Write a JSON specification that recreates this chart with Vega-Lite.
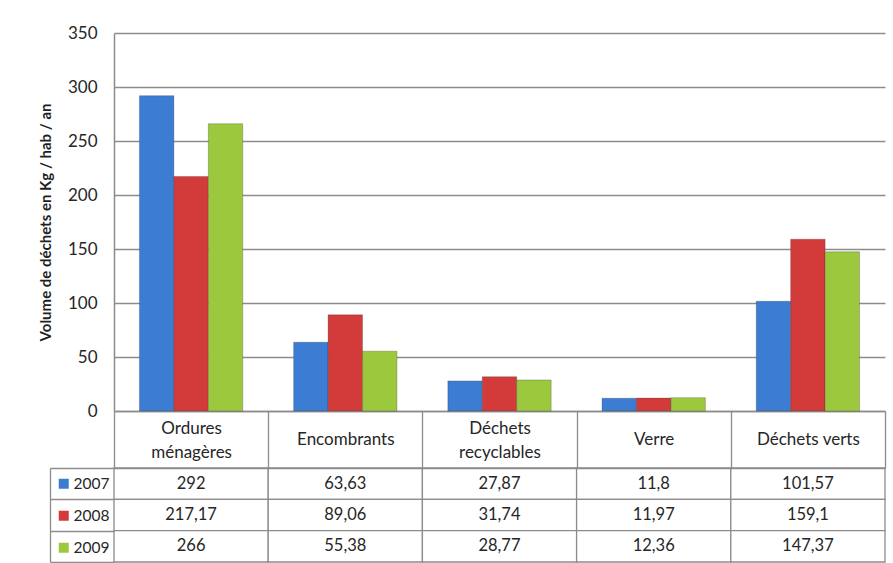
{
  "$schema": "https://vega.github.io/schema/vega-lite/v6.json",
  "background": "white",
  "padding": {"left": 38, "top": 24, "right": 7, "bottom": 0},
  "config": {
    "font": "Lato",
    "locale": {"number": {"decimal": ",", "thousands": " ", "grouping": [3], "currency": ["", " €"]}},
    "view": {"stroke": null}
  },
  "data": {
    "values": [
      {"cat": "Ordures ménagères", "year": "2007", "v": 292},
      {"cat": "Ordures ménagères", "year": "2008", "v": 217.17},
      {"cat": "Ordures ménagères", "year": "2009", "v": 266},
      {"cat": "Encombrants", "year": "2007", "v": 63.63},
      {"cat": "Encombrants", "year": "2008", "v": 89.06},
      {"cat": "Encombrants", "year": "2009", "v": 55.38},
      {"cat": "Déchets recyclables", "year": "2007", "v": 27.87},
      {"cat": "Déchets recyclables", "year": "2008", "v": 31.74},
      {"cat": "Déchets recyclables", "year": "2009", "v": 28.77},
      {"cat": "Verre", "year": "2007", "v": 11.8},
      {"cat": "Verre", "year": "2008", "v": 11.97},
      {"cat": "Verre", "year": "2009", "v": 12.36},
      {"cat": "Déchets verts", "year": "2007", "v": 101.57},
      {"cat": "Déchets verts", "year": "2008", "v": 159.1},
      {"cat": "Déchets verts", "year": "2009", "v": 147.37}
    ]
  },
  "spacing": 57,
  "bounds": "flush",
  "vconcat": [
    {
      "width": 771,
      "height": 378,
      "mark": {"type": "bar", "stroke": "#333333", "strokeOpacity": 0.35, "strokeWidth": 0.8},
      "encoding": {
        "x": {
          "field": "cat", "type": "nominal",
          "sort": ["Ordures ménagères", "Encombrants", "Déchets recyclables", "Verre", "Déchets verts"],
          "scale": {"paddingInner": 0.33, "paddingOuter": 0.165},
          "axis": {
            "title": null, "labels": false, "ticks": false, "grid": false,
            "domainColor": "#8c8c8c", "domainWidth": 1.5
          }
        },
        "xOffset": {"field": "year", "type": "nominal"},
        "y": {
          "field": "v", "type": "quantitative",
          "scale": {"domain": [0, 350], "nice": false},
          "axis": {
            "title": "Volume de déchets en Kg / hab / an",
            "titleFontSize": 15, "titleFontWeight": "bold", "titleColor": "#1f1f1f", "titlePadding": 14,
            "values": [0, 50, 100, 150, 200, 250, 300, 350],
            "ticks": false, "labelPadding": 17, "labelFontSize": 17, "labelColor": "#262626",
            "gridColor": "#8c8c8c", "gridWidth": 1.5,
            "domainColor": "#8c8c8c", "domainWidth": 1.5
          }
        },
        "color": {
          "field": "year", "type": "nominal",
          "scale": {"range": ["#3c7cd2", "#d33b3b", "#9cc83d"]},
          "legend": {
            "orient": "none", "legendX": -58, "legendY": 443, "title": null, "padding": 0,
            "symbolType": "square", "symbolSize": 100, "symbolStrokeWidth": 0,
            "labelFontSize": 15.5, "labelOffset": 2, "rowPadding": 15, "labelColor": "#262626"
          }
        }
      }
    },
    {
      "width": 771,
      "height": 94,
      "encoding": {
        "x": {
          "field": "cat", "type": "nominal",
          "sort": ["Ordures ménagères", "Encombrants", "Déchets recyclables", "Verre", "Déchets verts"],
          "scale": {"paddingInner": 0, "paddingOuter": 0},
          "axis": {
            "title": null, "orient": "top", "labelAngle": 0, "grid": false,
            "domainColor": "#8c8c8c", "domainWidth": 1.3,
            "tickColor": "#8c8c8c", "tickWidth": 1.3, "tickSize": 57, "tickBand": "extent",
            "labelBaseline": "middle", "labelFontSize": 17, "labelColor": "#262626",
            "labelLineHeight": 24, "labelOverlap": false,
            "labelPadding": {"condition": {"test": "datum.value == 'Ordures ménagères' || datum.value == 'Déchets recyclables'", "value": -17}, "value": -28.5},
            "labelExpr": "datum.label == 'Ordures ménagères' ? ['Ordures', 'ménagères'] : datum.label == 'Déchets recyclables' ? ['Déchets', 'recyclables'] : datum.label"
          }
        },
        "y": {
          "field": "year", "type": "nominal",
          "scale": {"paddingInner": 0, "paddingOuter": 0},
          "axis": {
            "title": null, "labels": false, "orient": "left", "offset": 64, "grid": false,
            "domainColor": "#8c8c8c", "domainWidth": 1.3,
            "tickColor": "#8c8c8c", "tickWidth": 1.3, "tickSize": -64, "tickBand": "extent"
          }
        }
      },
      "layer": [
        {"mark": {"type": "rect", "fill": "white", "stroke": "#8c8c8c", "strokeWidth": 1.3}},
        {
          "mark": {"type": "text", "fontSize": 16.5, "color": "#262626"},
          "encoding": {"text": {"field": "v", "type": "quantitative", "format": ".2~f"}}
        }
      ]
    }
  ]
}
